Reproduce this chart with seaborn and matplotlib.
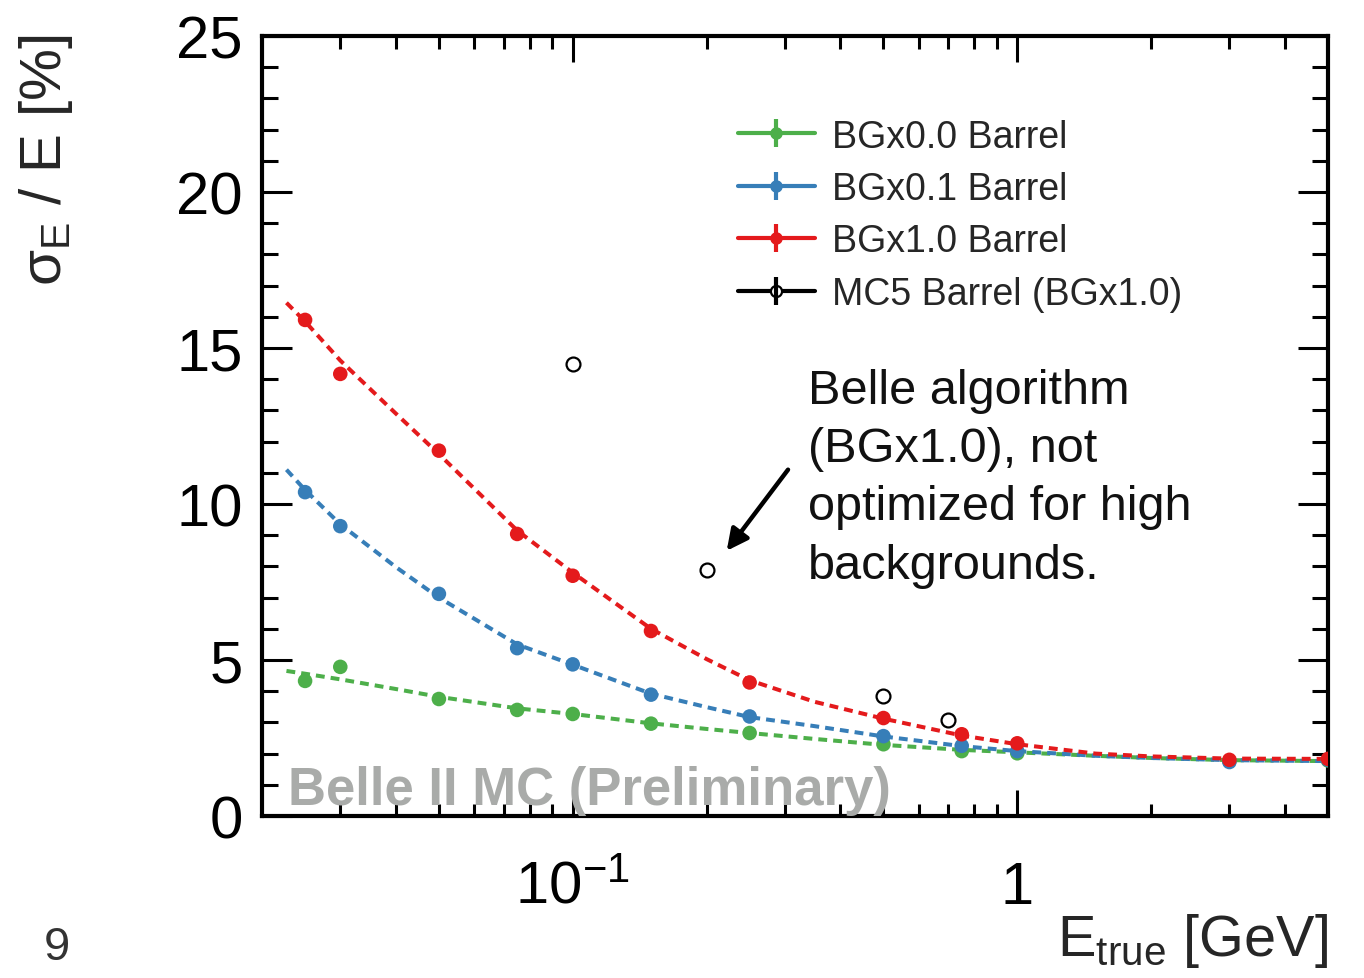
import matplotlib
matplotlib.use("Agg")
import matplotlib.pyplot as plt
import seaborn as sns
from matplotlib.lines import Line2D
from matplotlib.ticker import FixedLocator, NullFormatter, MultipleLocator, FixedFormatter

# ---------------- data ----------------
energy = [0.025, 0.03, 0.05, 0.075, 0.1, 0.15, 0.25, 0.5, 0.75, 1.0, 3.0, 5.0]
res_bg00 = [4.33, 4.78, 3.75, 3.40, 3.27, 2.96, 2.66, 2.30, 2.08, 2.01, 1.76, 1.78]
res_bg01 = [10.38, 9.29, 7.12, 5.38, 4.86, 3.89, 3.19, 2.56, 2.25, 2.08, 1.73, 1.80]
res_bg10 = [15.90, 14.17, 11.71, 9.04, 7.70, 5.93, 4.28, 3.14, 2.62, 2.33, 1.80, 1.83]

mc5_energy = [0.1, 0.2, 0.5, 0.7]
mc5_res = [14.49, 7.88, 3.85, 3.09]

fit_energy = [0.0227, 0.025, 0.03, 0.04, 0.05, 0.075, 0.1, 0.15, 0.2, 0.25, 0.35,
              0.5, 0.75, 1.0, 1.5, 2.0, 3.0, 5.0]
fit_bg10 = [16.45, 15.85, 14.6, 12.9, 11.6, 9.15, 7.8, 6.0, 5.03, 4.35, 3.66,
            3.12, 2.58, 2.3, 2.0, 1.91, 1.84, 1.83]
fit_bg01 = [11.1, 10.45, 9.35, 7.98, 7.0, 5.5, 4.85, 3.92, 3.49, 3.17, 2.88,
            2.55, 2.24, 2.08, 1.93, 1.86, 1.79, 1.76]
fit_bg00 = [4.65, 4.56, 4.38, 4.07, 3.82, 3.45, 3.27, 2.97, 2.79, 2.66, 2.47,
            2.28, 2.12, 2.04, 1.93, 1.86, 1.79, 1.76]

series_labels = ["BGx0.0 Barrel", "BGx0.1 Barrel", "BGx1.0 Barrel", "MC5 Barrel (BGx1.0)"]
xtick_values = [0.1, 1.0]
xtick_labels = [r"$\mathregular{10^{-1}}$", "1"]
ytick_values = [0, 5, 10, 15, 20, 25]
annotation_lines = ["Belle algorithm", "(BGx1.0), not", "optimized for high", "backgrounds."]

GREEN = "#4daf4a"
BLUE = "#377eb8"
RED = "#e41a1c"

# ---------------- style ----------------
sns.set_style("ticks")
plt.rcParams["font.family"] = ["Liberation Sans", "DejaVu Sans"]
plt.rcParams["mathtext.fontset"] = "custom"
plt.rcParams["mathtext.rm"] = "Liberation Sans"
plt.rcParams["mathtext.it"] = "Liberation Sans:italic"
plt.rcParams["mathtext.bf"] = "Liberation Sans:bold"

fig = plt.figure(figsize=(13.64, 9.79), dpi=100)
ax = fig.add_axes([262 / 1364, 1 - 817 / 979, (1328 - 262) / 1364, (817 - 37) / 979])

dash = (0, (2.2, 1.5))
for fy, col in [(fit_bg00, GREEN), (fit_bg01, BLUE), (fit_bg10, RED)]:
    sns.lineplot(x=fit_energy, y=fy, ax=ax, color=col, lw=2.9, linestyle=dash,
                 sort=True, zorder=2)

for yy, col in [(res_bg00, GREEN), (res_bg01, BLUE), (res_bg10, RED)]:
    sns.scatterplot(x=energy, y=yy, ax=ax, color=col, s=110, edgecolor="none",
                    linewidth=0, zorder=3, legend=False)

sns.scatterplot(x=mc5_energy, y=mc5_res, ax=ax, facecolor="white", edgecolor="black",
                s=100, linewidth=1.6, zorder=4, legend=False)

ax.set_xscale("log")
ax.set_xlim(0.02, 5.0)
ax.set_ylim(0, 25)

# ticks
ax.xaxis.set_major_locator(FixedLocator(xtick_values))
ax.xaxis.set_major_formatter(FixedFormatter(xtick_labels))
minors = [0.03, 0.04, 0.05, 0.06, 0.07, 0.08, 0.09,
          0.2, 0.3, 0.4, 0.5, 0.6, 0.7, 0.8, 0.9, 2, 3, 4]
ax.xaxis.set_minor_locator(FixedLocator(minors))
ax.xaxis.set_minor_formatter(NullFormatter())
ax.yaxis.set_major_locator(FixedLocator(ytick_values))
ax.yaxis.set_minor_locator(MultipleLocator(1))

ax.tick_params(which="both", direction="in", top=True, right=True, color="black",
               labelsize=43, labelcolor="black")
ax.tick_params(axis="x", which="major", length=19, width=2.2, pad=32)
ax.tick_params(axis="x", which="minor", length=9, width=2.2)
ax.tick_params(axis="y", which="major", length=21.5, width=2.2, pad=14)
ax.tick_params(axis="y", which="minor", length=11.5, width=2.2)
for sp in ax.spines.values():
    sp.set_linewidth(3.0)
    sp.set_color("black")

ax.set_ylabel(r"σ$_{\mathregular{E}}$ / E [%]", fontsize=42, loc="top")
ax.yaxis.set_label_coords(-0.175, 1.003)
ax.set_xlabel(r"E$_{\mathregular{true}}$ [GeV]", fontsize=41.5, loc="right")
ax.xaxis.set_label_coords(1.0, -0.122)

# legend
handles = []
for col in [GREEN, BLUE, RED]:
    handles.append((Line2D([], [], color=col, lw=3, marker="o", ms=8, mec=col),
                    Line2D([], [], color=col, lw=0, marker="|", ms=20, mew=3)))
handles.append((Line2D([], [], color="black", lw=3, marker="o", ms=8, mfc="white",
                       mec="black", mew=1.6),
                Line2D([], [], color="black", lw=0, marker="|", ms=20, mew=3)))
leg = ax.legend(handles, series_labels, loc="upper left",
                bbox_to_anchor=(738 / 1364, 1 - 119.5 / 979),
                bbox_transform=fig.transFigure, frameon=False, fontsize=27,
                handlelength=2.05, handletextpad=0.45, labelspacing=0.44,
                borderpad=0, borderaxespad=0)

# annotation
ax.text(0.338, 14.37, "\n".join(annotation_lines), fontsize=35, color="#111111",
        ha="left", va="top", linespacing=1.38, fontweight="light")
ax.annotate("", xy=(0.222, 8.5), xytext=(0.305, 11.1),
            arrowprops=dict(arrowstyle="-|>", lw=3.2, color="black",
                            mutation_scale=32, shrinkA=0, shrinkB=0))

# watermark
ax.text(0.0244, 0.0154, "Belle II MC (Preliminary)", transform=ax.transAxes,
        fontsize=38, fontweight="bold", color="#a9aba9", ha="left", va="baseline",
        zorder=5)

# page number
fig.text(57 / 1364, 1 - 948 / 979, "9", fontsize=34, color="#333333",
         ha="center", va="center")

fig.savefig("out.png", dpi=100)
